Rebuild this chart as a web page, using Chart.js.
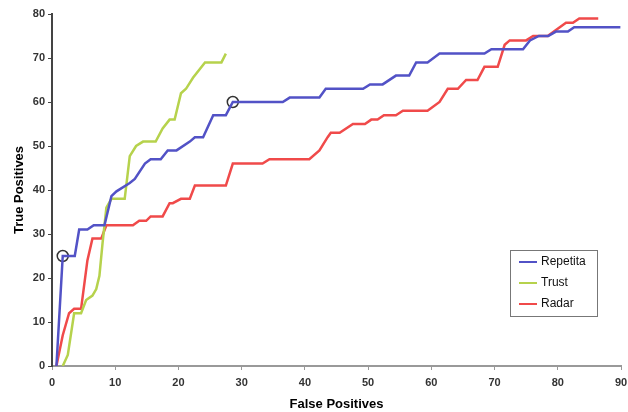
<!DOCTYPE html>
<html><head><meta charset="utf-8">
<script src="https://cdn.jsdelivr.net/npm/chart.js@4/dist/chart.umd.min.js"></script>
<style>html,body{margin:0;padding:0;background:#fff;}canvas{display:block;}</style>
</head><body>
<canvas id="c" width="628" height="412"></canvas>
<script>
const seriesNames = ["Repetita", "Trust", "Radar"];
const repetitaX = [0.7,1.7,3.6,4.3,5.6,6.6,8.3,9.4,10.2,12.3,13.1,14.7,15.6,17.2,18.3,19.7,21.8,22.6,23.9,25.5,27.5,28.6,36.5,37.6,42.3,43.3,49.2,50.3,52.3,54.4,56.5,57.6,59.4,61.3,68.4,69.5,74.5,75.6,77.0,78.5,79.7,81.6,82.6,89.9];
const repetitaY = [0,25,25,31,31,32,32,38.6,39.7,41.6,42.5,46,47,47,49,49,51,52,52,57,57,60,60,61,61,63,63,64,64,66,66,69,69,71,71,72,72,74,75,75,76,76,77,77];
const trustX = [1.7,2.5,3.5,4.6,5.4,6.4,7.0,7.5,8.0,8.6,9.4,11.5,12.3,13.3,14.4,16.4,17.5,18.6,19.4,20.4,21.2,22.3,24.2,26.8,27.5];
const trustY = [0,2.5,12,12,15,16,17.5,20.5,28,36,38,38,47.7,50,51,51,54,56,56,62,63,65.5,69,69,71];
const radarX = [0.7,1.7,2.7,3.5,4.6,5.6,6.4,7.8,8.6,12.8,13.8,14.9,15.6,17.5,18.6,19.1,20.4,21.8,22.6,27.5,28.6,33.3,34.4,40.7,42.3,43.6,44.1,45.5,47.6,49.5,50.5,51.5,52.5,54.4,55.5,59.4,61.3,62.6,64.2,65.5,67.3,68.4,70.5,71.6,72.4,75.0,76.1,78.4,81.3,82.4,83.4,86.4];
const radarY = [0,7,12,13,13,24,29,29,32,32,33,33,34,34,37,37,38,38,41,41,46,46,47,47,49,52,53,53,55,55,56,56,57,57,58,58,60,63,63,65,65,68,68,73,74,74,75,75,78,78,79,79];
const markerX = [1.7, 28.6];
const markerY = [25, 60];
const xTicks = [0,10,20,30,40,50,60,70,80,90];
const yTicks = [0,10,20,30,40,50,60,70,80];

const colors = ["#5252c6", "#b6d24c", "#f04a4a"];
const zip = (xs, ys) => xs.map((x, i) => ({x: x, y: ys[i]}));
const FONT = '"Liberation Sans", Arial, sans-serif';

const legendPlugin = {
  id: 'boxLegend',
  afterDraw(chart) {
    const ctx = chart.ctx;
    const x0 = 510, y0 = 250, w = 87, h = 66;
    ctx.save();
    ctx.fillStyle = '#fff';
    ctx.fillRect(x0, y0, w, h);
    ctx.strokeStyle = '#777';
    ctx.lineWidth = 1;
    ctx.strokeRect(x0 + 0.5, y0 + 0.5, w, h);
    ctx.font = '12px ' + FONT;
    ctx.textBaseline = 'middle';
    for (let i = 0; i < 3; i++) {
      const yy = y0 + 12 + i * 21;
      ctx.strokeStyle = colors[i];
      ctx.lineWidth = 2;
      ctx.beginPath(); ctx.moveTo(519, yy); ctx.lineTo(537, yy); ctx.stroke();
      ctx.fillStyle = '#111';
      ctx.fillText(seriesNames[i], 541, yy);
    }
    ctx.restore();
  }
};

new Chart(document.getElementById('c'), {
  type: 'line',
  data: {
    datasets: [
      {label: seriesNames[0], data: zip(repetitaX, repetitaY), borderColor: colors[0], borderWidth: 2.5, pointRadius: 0, fill: false, tension: 0},
      {label: seriesNames[1], data: zip(trustX, trustY), borderColor: colors[1], borderWidth: 2.5, pointRadius: 0, fill: false, tension: 0},
      {label: seriesNames[2], data: zip(radarX, radarY), borderColor: colors[2], borderWidth: 2.5, pointRadius: 0, fill: false, tension: 0},
      {label: 'markers', data: zip(markerX, markerY), showLine: false, pointRadius: 5.5, pointBorderColor: '#333', pointBorderWidth: 1.5, pointBackgroundColor: 'rgba(0,0,0,0)'}
    ]
  },
  options: {
    responsive: false,
    animation: false,
    layout: {padding: {left: 12, right: 6, top: 14, bottom: 0}},
    plugins: {legend: {display: false}, tooltip: {enabled: false}},
    scales: {
      x: {
        type: 'linear', min: 0, max: 90,
        afterBuildTicks: s => { s.ticks = xTicks.map(v => ({value: v})); },
        afterFit: s => { s.height = 46; s.paddingRight = 0; s.paddingLeft = 0; },
        grid: {drawOnChartArea: false, drawTicks: true, tickLength: 4, color: '#999'},
        border: {display: true, color: '#999', width: 2},
        ticks: {color: '#333', font: {size: 11, weight: 'bold', family: FONT}, padding: 6, maxRotation: 0},
        title: {display: true, text: 'False Positives', color: '#000', font: {size: 13, weight: 'bold', family: FONT}, padding: {top: 0, bottom: 0}}
      },
      y: {
        type: 'linear', min: 0, max: 80,
        afterBuildTicks: s => { s.ticks = yTicks.map(v => ({value: v})); },
        afterFit: s => { s.width = 40; s.paddingTop = 0; s.paddingBottom = 0; },
        grid: {drawOnChartArea: false, drawTicks: true, tickLength: 4, color: '#444'},
        border: {display: true, color: '#444', width: 2},
        ticks: {color: '#333', font: {size: 11, weight: 'bold', family: FONT}, padding: 3},
        title: {display: true, text: 'True Positives', color: '#000', font: {size: 13, weight: 'bold', family: FONT}, padding: {top: 0, bottom: 0}}
      }
    }
  },
  plugins: [legendPlugin]
});
</script>
</body></html>
